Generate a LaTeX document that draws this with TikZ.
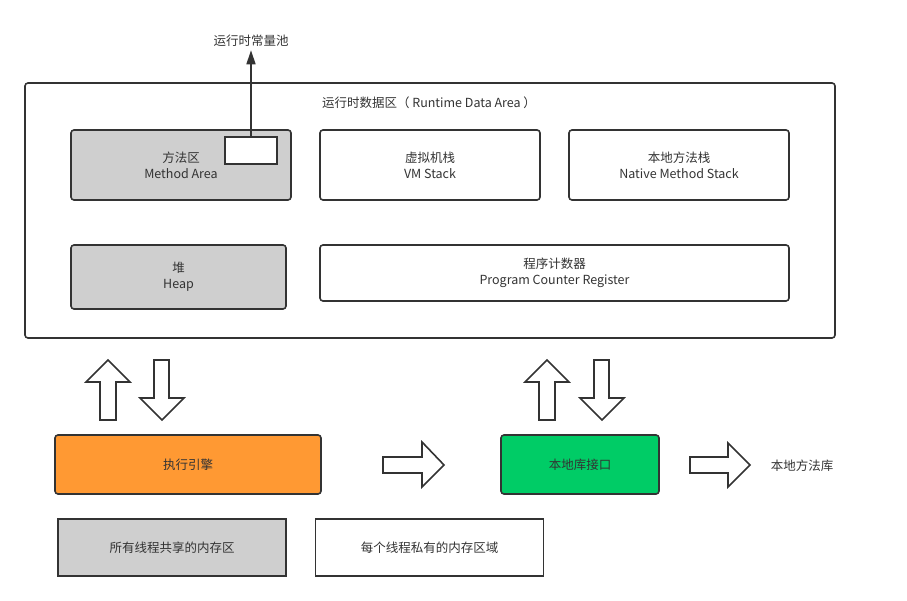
\documentclass[tikz,border=0pt]{standalone}
\usepackage{fontspec}
\setmainfont{Noto Sans CJK SC}
\usetikzlibrary{arrows.meta,positioning}

\definecolor{edge}{HTML}{333333}
\definecolor{txt}{HTML}{333333}
\definecolor{shared}{HTML}{CFCFCF}
\definecolor{engine}{HTML}{FF9933}
\definecolor{native}{HTML}{00CC66}

\begin{document}
\begin{tikzpicture}[x=1pt, y=-1pt, font=\fontsize{12.5}{16}\selectfont, text=txt, >=Stealth]

\tikzset{
  area/.style={draw=edge, line width=1.6pt, rounded corners=3pt, align=center, inner sep=0pt},
  legend/.style={draw=edge, line width=1.6pt, align=center, inner sep=0pt, minimum width=228pt, minimum height=57pt},
  fat/.style={draw=edge, line width=1.6pt, fill=white, line join=miter},
}

\useasboundingbox (0,0) rectangle (907,601);

% Runtime data area
\node[area, minimum width=810pt, minimum height=255pt] (rda) at (430,210.5) {};
\node (rdatitle) at (429,103) {运行时数据区（ Runtime Data Area ）};

% Memory areas
\node[area, fill=shared, minimum width=220pt, minimum height=70pt] (method) at (181,165) {方法区\\Method Area};
\node[draw=edge, line width=1.6pt, fill=white, minimum width=52pt, minimum height=27pt, inner sep=0pt] (pool) at (251,150.5) {};
\node[area, minimum width=220pt, minimum height=70pt] (vmstack) at (430,165) {虚拟机栈\\VM Stack};
\node[area, minimum width=220pt, minimum height=70pt] (nstack) at (679,165) {本地方法栈\\Native Method Stack};
\node[area, fill=shared, minimum width=215pt, minimum height=64pt] (heap) at (178.5,277) {堆\\Heap};
\node[area, minimum width=469pt, minimum height=56pt] (pc) at (554.5,273) {程序计数器\\Program Counter Register};

% Constant pool
\node (poollabel) at (251,41) {运行时常量池};
\draw[->, edge, line width=1.6pt, >={Triangle[width=9pt,length=14pt]}] (pool.north) -- (poollabel.south);

% Engine and native interface
\node[area, fill=engine, minimum width=266pt, minimum height=59pt] (exec) at (188,464.5) {执行引擎};
\node[area, fill=native, minimum width=158pt, minimum height=59pt] (jni) at (580,464.5) {本地库接口};
\node (nlib) at (802,466) {本地方法库};

% Block arrows between data area and engine
\draw[fat] (100,420) -- (100,382) -- (86,382) -- (108,360) -- (130,382) -- (116,382) -- (116,420) -- cycle;
\draw[fat] (154,360) -- (154,398) -- (140,398) -- (162,420) -- (184,398) -- (169,398) -- (169,360) -- cycle;
\draw[fat] (539,420) -- (539,382) -- (525,382) -- (547,360) -- (569,382) -- (555,382) -- (555,420) -- cycle;
\draw[fat] (594,360) -- (594,398) -- (580,398) -- (602,420) -- (624,398) -- (609,398) -- (609,360) -- cycle;

% Block arrows to the right
\draw[fat] (383,457) -- (422,457) -- (422,442) -- (444,465) -- (422,487) -- (422,473) -- (383,473) -- cycle;
\draw[fat] (690,457) -- (728,457) -- (728,443) -- (750,465) -- (728,487) -- (728,473) -- (690,473) -- cycle;

% Legend
\node[legend, fill=shared] (sharedkey) at (172,547.5) {所有线程共享的内存区};
\node[legend, right=28pt of sharedkey] (privatekey) {每个线程私有的内存区域};

\end{tikzpicture}
\end{document}
